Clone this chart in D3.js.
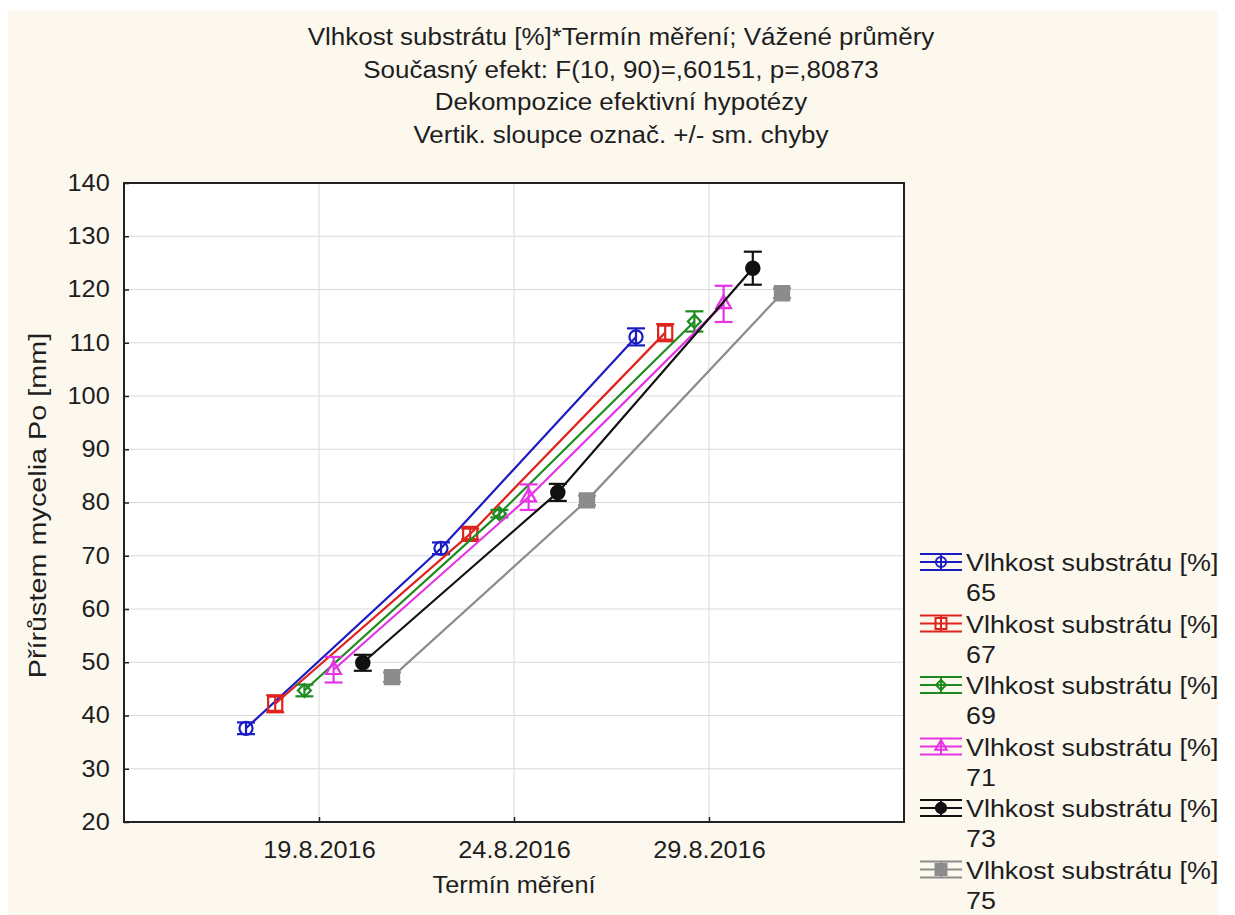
<!DOCTYPE html>
<html>
<head>
<meta charset="utf-8">
<script src="https://cdn.jsdelivr.net/npm/d3@7"></script>
<style>
  body { margin: 0; background: #fff; }
  text { font-family: 'Liberation Sans', Arial, sans-serif; fill: #1e1e1e; }
</style>
</head>
<body>
<div class="chartContainer"></div>
<script>
//categories on the x axis
const categories = ['19.8.2016', '24.8.2016', '29.8.2016'];

//series = moisture levels
const seriesNames = ['65', '67', '69', '71', '73', '75'];

//weighted means per series, one value per date
const means = [
    [37.6, 71.4, 111.1],
    [42.2, 74.1, 111.9],
    [44.7, 77.9, 114.0],
    [48.6, 81.0, 117.3],
    [49.9, 81.9, 124.0],
    [47.2, 80.4, 119.3]
];

//standard errors (+/-) per series
const stdErrors = [
    [1.1, 1.1, 1.6],
    [1.6, 1.0, 1.6],
    [1.1, 0.7, 1.9],
    [2.4, 2.4, 3.4],
    [1.5, 1.6, 3.1],
    [0.9, 0.9, 0.9]
];

const yTicks = [20, 30, 40, 50, 60, 70, 80, 90, 100, 110, 120, 130, 140];

const titleLines = [
    'Vlhkost substrátu [%]*Termín měření; Vážené průměry',
    'Současný efekt: F(10, 90)=,60151, p=,80873',
    'Dekompozice efektivní hypotézy',
    'Vertik. sloupce označ. +/- sm. chyby'
];

//styles for each series
const colors = ['#1c1cc4', '#e0241c', '#1f8a1f', '#e633e6', '#111111', '#8c8c8c'];
const shapes = ['circle', 'square', 'diamond', 'triangle', 'circle', 'square'];
const filled = [false, false, false, false, true, true];

//text in the picture is a bit wider than arial
function stretch(s) { return `scale(${s},1)`; }

const width = 1235, height = 915;
const margin = {top: 183, right: 331, bottom: 93, left: 124};
const chartWidth = width - margin.left - margin.right;
const chartHeight = height - margin.top - margin.bottom;

const svg = d3.select('.chartContainer')
    .append('svg')
    .attr('width', width)
    .attr('height', height);

//cream background
svg.append('rect')
    .attr('x', 8).attr('y', 10)
    .attr('width', 1210).attr('height', 905)
    .attr('fill', '#fcf8ee');

//title
const title = svg.append('g');
titleLines.forEach((t, i) => {
    title.append('text')
        .attr('transform', `translate(621, ${45 + i * 32.6}) ${stretch(1.13)}`)
        .attr('text-anchor', 'middle')
        .style('font-size', '23px')
        .text(t);
});

const chart = svg.append('g')
    .attr('transform', `translate(${margin.left}, ${margin.top})`);

//scales
const xScale = d3.scalePoint()
    .domain(categories)
    .range([0, chartWidth])
    .padding(1);

const offset = d3.scalePoint()
    .domain(seriesNames)
    .range([-73, 73]);

const yScale = d3.scaleLinear()
    .domain([20, 140])
    .range([chartHeight, 0]);

//plot area
chart.append('rect')
    .attr('width', chartWidth)
    .attr('height', chartHeight)
    .attr('fill', '#fff');

//grid
chart.append('g').selectAll('line')
    .data(yTicks.slice(1, -1))
    .enter().append('line')
    .attr('x1', 0).attr('x2', chartWidth)
    .attr('y1', d => yScale(d)).attr('y2', d => yScale(d))
    .attr('stroke', '#d9d9d9');

chart.append('g').selectAll('line')
    .data(categories)
    .enter().append('line')
    .attr('x1', d => xScale(d)).attr('x2', d => xScale(d))
    .attr('y1', 0).attr('y2', chartHeight)
    .attr('stroke', '#d9d9d9');

//axes
const yAxis = d3.axisLeft(yScale)
    .tickValues(yTicks)
    .tickSizeInner(-5)
    .tickSizeOuter(0)
    .tickPadding(13);

const yAxisDraw = chart.append('g').call(yAxis);

const xAxis = d3.axisBottom(xScale)
    .tickSizeInner(-5)
    .tickSizeOuter(0)
    .tickPadding(20);

const xAxisDraw = chart.append('g')
    .attr('transform', `translate(0, ${chartHeight})`)
    .call(xAxis);

[yAxisDraw, xAxisDraw].forEach(a => {
    a.select('.domain').remove();
    a.selectAll('line').attr('stroke', '#222').attr('stroke-width', 1.5);
    a.selectAll('text')
        .attr('transform', stretch(1.1))
        .style('font-size', '23px')
        .style('font-family', "'Liberation Sans', Arial, sans-serif")
        .attr('fill', '#1e1e1e');
});

//frame
chart.append('rect')
    .attr('width', chartWidth)
    .attr('height', chartHeight)
    .attr('fill', 'none')
    .attr('stroke', '#222')
    .attr('stroke-width', 2);

//axis titles
svg.append('text')
    .attr('transform', `translate(${margin.left + chartWidth / 2}, 893) ${stretch(1.1)}`)
    .attr('text-anchor', 'middle')
    .style('font-size', '23px')
    .text('Termín měření');

svg.append('text')
    .attr('transform', `translate(46, ${margin.top + chartHeight / 2 + 3}) rotate(-90) ${stretch(1.2)}`)
    .attr('text-anchor', 'middle')
    .style('font-size', '24px')
    .text('Přírůstem mycelia Po [mm]');

//marker path for a series
function markerPath(i, size) {
    const type = shapes[i] === 'circle' ? d3.symbolCircle
        : shapes[i] === 'triangle' ? d3.symbolTriangle
        : d3.symbolSquare;
    return d3.symbol().type(type).size(size)();
}
const markerSize = [135, 200, 85, 95, 140, 200];

//series
const line = d3.line()
    .x(d => d.x)
    .y(d => yScale(d.mean));

seriesNames.forEach((name, i) => {
    const pts = categories.map((c, j) => ({
        x: xScale(c) + offset(name),
        mean: means[i][j],
        se: stdErrors[i][j]
    }));

    const g = chart.append('g')
        .attr('class', 'series')
        .attr('stroke', colors[i])
        .attr('stroke-width', 2.2)
        .attr('fill', 'none');

    g.append('path').attr('d', line(pts));

    //error bars
    const err = g.selectAll('.err')
        .data(pts)
        .enter().append('g')
        .attr('class', 'err');
    err.append('line')
        .attr('x1', d => d.x).attr('x2', d => d.x)
        .attr('y1', d => yScale(d.mean - d.se)).attr('y2', d => yScale(d.mean + d.se));
    err.append('line')
        .attr('x1', d => d.x - 9).attr('x2', d => d.x + 9)
        .attr('y1', d => yScale(d.mean + d.se)).attr('y2', d => yScale(d.mean + d.se));
    err.append('line')
        .attr('x1', d => d.x - 9).attr('x2', d => d.x + 9)
        .attr('y1', d => yScale(d.mean - d.se)).attr('y2', d => yScale(d.mean - d.se));

    //markers
    g.selectAll('.marker')
        .data(pts)
        .enter().append('path')
        .attr('class', 'marker')
        .attr('d', markerPath(i, markerSize[i]))
        .attr('transform', d => `translate(${d.x}, ${yScale(d.mean)})` + (shapes[i] === 'diamond' ? ' rotate(45)' : ''))
        .attr('fill', filled[i] ? colors[i] : 'none');
});

//legend
const legend = svg.append('g')
    .attr('transform', 'translate(920, 562)');

seriesNames.forEach((name, i) => {
    const item = legend.append('g')
        .attr('transform', `translate(0, ${i * 61.5})`);

    const sym = item.append('g')
        .attr('stroke', colors[i])
        .attr('stroke-width', 2)
        .attr('fill', 'none');
    [-8, 0, 8].forEach(dy => {
        sym.append('line').attr('x1', 0).attr('x2', 42).attr('y1', dy).attr('y2', dy);
    });
    sym.append('line').attr('x1', 21).attr('x2', 21).attr('y1', -8).attr('y2', 8);
    sym.append('path')
        .attr('d', markerPath(i, markerSize[i] * 0.6))
        .attr('transform', 'translate(21, 0)' + (shapes[i] === 'diamond' ? ' rotate(45)' : ''))
        .attr('fill', filled[i] ? colors[i] : 'none');

    item.append('text')
        .attr('transform', `translate(46, 9) ${stretch(1.12)}`)
        .style('font-size', '24px')
        .text('Vlhkost substrátu [%]');
    item.append('text')
        .attr('transform', `translate(46, 39) ${stretch(1.12)}`)
        .style('font-size', '24px')
        .text(name);
});
</script>
</body>
</html>
